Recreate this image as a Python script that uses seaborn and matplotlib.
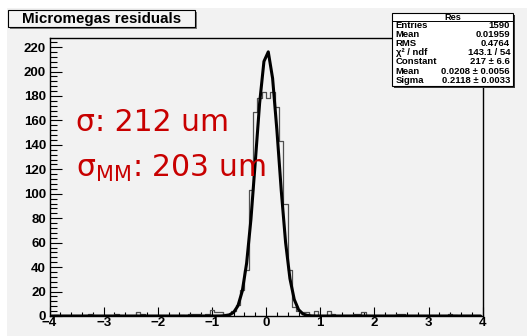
import numpy as np
import pandas as pd
import seaborn as sns
import matplotlib.pyplot as plt
from matplotlib.patches import Rectangle
from matplotlib.ticker import MultipleLocator

# residual histogram, 100 bins of 0.08 from -4 to 4
n_bins = 100
x_lo, x_hi = -4.0, 4.0

# central bins (index 43 .. 56)
core_start = 43
core_counts = [9, 21, 38, 103, 167, 178, 183, 178, 183, 171, 143, 92, 38, 7]

# scattered tail bins
tail_idx = [1, 9, 15, 20, 21, 30, 32, 33, 34, 36, 37, 38, 39, 40, 41, 42,
            57, 58, 59, 61, 64, 65, 70, 71, 72, 73, 80, 81, 92, 93]
tail_counts = [1, 2, 2, 3, 2, 1, 2, 2, 2, 2, 5, 3, 3, 2, 2, 4,
               4, 3, 3, 4, 4, 2, 2, 2, 3, 1, 2, 2, 2, 1]

# gaussian fit
fit_const = 217.0
fit_mean = 0.0208
fit_sigma = 0.2118

stat_labels = ["Entries", "Mean", "RMS", "χ² / ndf", "Constant", "Mean", "Sigma"]
stat_values = ["1590", "0.01959", "0.4764", "143.1 / 54", "217 ± 6.6",
               "0.0208 ± 0.0056", "0.2118 ± 0.0033"]

W, H = 527, 336
bg = "#f2f2f2"

edges = np.linspace(x_lo, x_hi, n_bins + 1)
centers = 0.5 * (edges[:-1] + edges[1:])
counts = np.zeros(n_bins)
counts[core_start:core_start + len(core_counts)] = core_counts
counts[tail_idx] = tail_counts
hist_df = pd.DataFrame({"x": centers, "n": counts})

curve_y = fit_const * np.exp(-0.5 * ((centers - fit_mean) / fit_sigma) ** 2)
curve_df = pd.DataFrame({"x": centers, "y": curve_y})

sns.set_theme(style="ticks")
plt.rcParams["font.family"] = ["Liberation Sans", "DejaVu Sans"]
plt.rcParams["mathtext.fontset"] = "dejavusans"


def fx(px):
    return px / W


def fy(py):
    return 1 - py / H


fig = plt.figure(figsize=(W / 100, H / 100), dpi=100, facecolor="white")
fig.patches.append(Rectangle((fx(7), 0), 1, fy(8), transform=fig.transFigure,
                             facecolor=bg, edgecolor="none", zorder=-10))

ax = fig.add_axes([fx(49.5), fy(316), fx(482.7) - fx(49.5), fy(38.3) - fy(316)])
ax.set_facecolor(bg)

sns.histplot(data=hist_df, x="x", weights="n", binwidth=(x_hi - x_lo) / n_bins,
             binrange=(x_lo, x_hi), element="step",
             fill=False, color="#505050", linewidth=0.9, ax=ax)
sns.lineplot(data=curve_df, x="x", y="y", color="black", linewidth=2.2, ax=ax)

ax.set_xlim(x_lo, x_hi)
ax.set_ylim(0, 227.2)
ax.set_xlabel("")
ax.set_ylabel("")
for s in ax.spines.values():
    s.set_visible(True)
    s.set_color("black")
    s.set_linewidth(1.0)

ax.xaxis.set_major_locator(MultipleLocator(1))
ax.xaxis.set_minor_locator(MultipleLocator(0.2))
ax.yaxis.set_major_locator(MultipleLocator(20))
ax.yaxis.set_minor_locator(MultipleLocator(4))
ax.tick_params(axis="both", which="both", colors="black", labelcolor="black")
ax.tick_params(axis="x", which="major", direction="in", length=6.5, width=0.8,
               pad=1, labelsize=9.5, top=False)
ax.tick_params(axis="x", which="minor", direction="in", length=3.2, width=0.8, top=False)
ax.tick_params(axis="y", which="major", direction="in", length=8.6, width=0.8,
               pad=2.5, labelsize=9.5, right=False)
ax.tick_params(axis="y", which="minor", direction="in", length=4.8, width=0.8, right=False)
for lab in ax.get_xticklabels() + ax.get_yticklabels():
    lab.set_fontweight("bold")

# title box
fig.patches.append(Rectangle((fx(10), fy(29)), fx(195) - fx(8), fy(10) - fy(27),
                             transform=fig.transFigure, facecolor="#7a7a7a",
                             edgecolor="none", zorder=3))
fig.patches.append(Rectangle((fx(8), fy(27)), fx(195) - fx(8), fy(10) - fy(27),
                             transform=fig.transFigure, facecolor="#f4f4f4",
                             edgecolor="black", linewidth=0.8, zorder=4))
fig.text(fx(101.5), fy(18.5), "Micromegas residuals", ha="center", va="center",
         fontsize=10.9, fontweight="bold", color="black", zorder=5)

# stats box
bx0, bx1, by0, by1 = 391.7, 513.3, 13.3, 86
fig.patches.append(Rectangle((fx(bx0 + 2), fy(by1 + 2)), fx(bx1) - fx(bx0), fy(by0) - fy(by1),
                             transform=fig.transFigure, facecolor="#3a3a3a",
                             edgecolor="none", zorder=3))
fig.patches.append(Rectangle((fx(bx0), fy(by1)), fx(bx1) - fx(bx0), fy(by0) - fy(by1),
                             transform=fig.transFigure, facecolor="white",
                             edgecolor="black", linewidth=0.8, zorder=4))
fig.add_artist(plt.Line2D([fx(bx0), fx(bx1)], [fy(21.3), fy(21.3)],
                          transform=fig.transFigure, color="black", linewidth=0.7, zorder=5))
fig.text(fx((bx0 + bx1) / 2), fy(17.2), "Res", ha="center", va="center",
         fontsize=6.6, fontweight="bold", color="black", zorder=5)
for i, (lab, val) in enumerate(zip(stat_labels, stat_values)):
    yy = fy(25.8 + i * 9.05)
    fig.text(fx(395.5), yy, lab, ha="left", va="center", fontsize=6.8,
             fontweight="bold", color="black", zorder=5)
    fig.text(fx(510), yy, val, ha="right", va="center", fontsize=6.8,
             fontweight="bold", color="black", zorder=5)

# annotations
red = "#c80000"
fig.text(fx(76), fy(131), "σ: 212 um", color=red, fontsize=21.5,
         family=["DejaVu Sans"], va="baseline", ha="left", zorder=6)
fig.text(fx(76), fy(177), r"$\mathrm{σ}_{\mathrm{MM}}$: 203 um", color=red, fontsize=21.5,
         family=["DejaVu Sans"], va="baseline", ha="left", zorder=6)

fig.savefig("out.png", dpi=100, facecolor="white")
